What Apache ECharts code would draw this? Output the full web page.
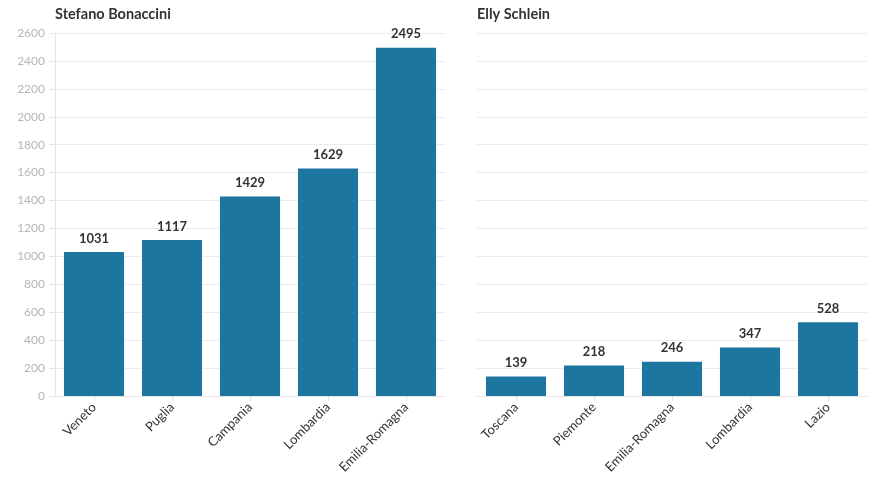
<!DOCTYPE html>
<html><head><meta charset="utf-8">
<script src="https://cdn.jsdelivr.net/npm/echarts@6/dist/echarts.min.js"></script>
<style>html,body{margin:0;padding:0;background:#fff}#c{width:873px;height:480px}</style>
</head><body><div id="c"></div>
<script>
const titles = ['Stefano Bonaccini', 'Elly Schlein'];
const catsLeft = ['Veneto', 'Puglia', 'Campania', 'Lombardia', 'Emilia-Romagna'];
const valsLeft = [1031, 1117, 1429, 1629, 2495];
const catsRight = ['Toscana', 'Piemonte', 'Emilia-Romagna', 'Lombardia', 'Lazio'];
const valsRight = [139, 218, 246, 347, 528];
const yMax = 2600, yStep = 200;

const font = 'Lato, "Open Sans", sans-serif';
const grids = [
  {left: 55, width: 390, top: 33, height: 363},
  {left: 477, width: 390, top: 33, height: 363}
];
function xAxis(i, cats) {
  return {
    type: 'category', gridIndex: i, data: cats,
    axisLine: {show: true, lineStyle: {color: '#e6e6e6'}},
    axisTick: {show: true, alignWithLabel: true, length: 5, lineStyle: {color: '#dddddd'}},
    axisLabel: {rotate: 45, color: '#333', fontSize: 13, fontFamily: font, margin: 9, interval: 0}
  };
}
function yAxis(i, showLabels) {
  return {
    type: 'value', gridIndex: i, min: 0, max: yMax, interval: yStep,
    axisLine: {show: showLabels, lineStyle: {color: '#e6e6e6'}},
    axisTick: {show: showLabels, length: 6, lineStyle: {color: '#e6e6e6'}},
    axisLabel: {show: showLabels, color: '#b5b5b5', fontSize: 12, fontFamily: font, margin: 10,
      formatter: v => String(v)},
    splitLine: {show: true, lineStyle: {color: '#ececec'}}
  };
}
function series(i, vals) {
  return {
    type: 'bar', xAxisIndex: i, yAxisIndex: i, data: vals,
    barCategoryGap: '23%',
    itemStyle: {color: '#1d76a0'},
    label: {show: true, position: 'top', distance: 7, color: '#333', fontWeight: 'bold', fontSize: 13, fontFamily: font}
  };
}
const chart = echarts.init(document.getElementById('c'), null, {renderer: 'canvas'});
const tStyle = {fontSize: 14.5, fontWeight: 'bold', color: '#333', fontFamily: font};
chart.setOption({
  animation: false,
  title: [
    {text: titles[0], left: 55, top: 7, padding: 0, textStyle: tStyle},
    {text: titles[1], left: 477, top: 7, padding: 0, textStyle: tStyle}
  ],
  grid: grids,
  xAxis: [xAxis(0, catsLeft), xAxis(1, catsRight)],
  yAxis: [yAxis(0, true), yAxis(1, false)],
  series: [series(0, valsLeft), series(1, valsRight)]
});
</script></body></html>
